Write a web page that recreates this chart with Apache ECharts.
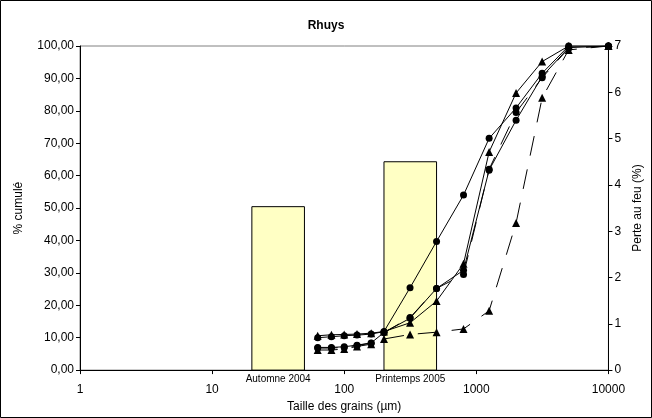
<!DOCTYPE html>
<html>
<head>
<meta charset="utf-8">
<script src="https://cdn.jsdelivr.net/npm/echarts@6/dist/echarts.min.js"></script>
<style>
    html, body { margin: 0; padding: 0; background: #fff; }
    #chart { width: 652px; height: 418px; }
</style>
</head>
<body>
<div id="chart"></div>
<script>
// tailles des tamis (µm)
var sizes = [63, 80, 100, 125, 160, 200, 315, 500, 800, 1250, 2000, 3150, 5000, 10000];

// % cumulé
var serieA = [10.0, 10.3, 10.6, 10.8, 11.1, 11.9, 25.4, 39.7, 54.0, 71.5, 80.9, 91.6, 100, 100];
var serieB = [10.6, 10.9, 11.0, 11.1, 11.4, 11.9, 14.6, 21.3, 32.8, 67.3, 85.5, 95.2, 100, 100];
var serieC = [6.8, 6.8, 7.0, 7.6, 8.3, 11.6, 16.2, 25.2, 29.5, 62.0, 79.5, 90.2, 99.3, 100];
var serieD = [6.2, 6.2, 6.5, 7.3, 8.0, 9.6, 11.0, 11.7, 12.7, 18.3, 45.4, 84.0, 98.8, 100];
var serieE = [7.0, 7.0, 7.2, 7.7, 8.4, 11.6, 16.0, 25.2, 30.8, 61.7, 77.1, 90.6, 99.5, 100];

// perte au feu (%)
var barLabels = ['Automne 2004', 'Printemps 2005'];
var barFrom = [20, 200];
var barTo = [50, 500];
var barValues = [3.53, 4.50];

var xTicks = ['1', '10', '100', '1000', '10000'];

var chart = echarts.init(document.getElementById('chart'));
var font = 'Arial, "Liberation Sans", sans-serif';

function pairs(values) {
    var out = [];
    for (var i = 0; i < sizes.length; i++) {
        out.push([sizes[i], values[i]]);
    }
    return out;
}

function lineSerie(values, symbol, dashed) {
    return {
        type: 'line',
        data: pairs(values),
        symbol: symbol,
        symbolSize: symbol === 'circle' ? 7 : 8,
        itemStyle: {color: '#000'},
        lineStyle: {color: '#000', width: 1, type: dashed ? [20, 14] : 'solid'},
        z: 5,
        animation: false
    };
}

var barData = [];
for (var i = 0; i < barLabels.length; i++) {
    barData.push([barFrom[i], barTo[i], barValues[i]]);
}

function renderBar(params, api) {
    var p0 = api.coord([api.value(0), api.value(2)]);
    var p1 = api.coord([api.value(1), 0]);
    return {
        type: 'group',
        children: [
            {
                type: 'rect',
                shape: {x: p0[0], y: p0[1], width: p1[0] - p0[0], height: p1[1] - p0[1]},
                style: {fill: '#ffffc4', stroke: '#000', lineWidth: 1}
            },
            {
                type: 'text',
                style: {
                    text: barLabels[params.dataIndex],
                    x: (p0[0] + p1[0]) / 2,
                    y: p1[1] + 4,
                    align: 'center',
                    verticalAlign: 'top',
                    font: '10px ' + font,
                    fill: '#000'
                }
            }
        ]
    };
}

chart.setOption({
    backgroundColor: '#fff',
    title: {
        text: 'Rhuys',
        left: 'center',
        top: 15,
        textStyle: {fontFamily: font, fontSize: 12, fontWeight: 'bold', color: '#000'}
    },
    grid: {
        left: 80,
        right: 36,
        top: 46,
        bottom: 46,
        show: true,
        borderColor: '#808080',
        borderWidth: 1
    },
    xAxis: {
        type: 'log',
        logBase: 10,
        min: 1,
        max: 10000,
        name: 'Taille des grains (µm)',
        nameLocation: 'middle',
        nameGap: 29,
        nameTextStyle: {fontFamily: font, fontSize: 12, color: '#000'},
        axisLine: {lineStyle: {color: '#000', width: 1}},
        axisTick: {length: 4, lineStyle: {color: '#000'}},
        axisLabel: {
            fontFamily: font, fontSize: 12, color: '#000', margin: 14,
            formatter: function (v) {
                var k = Math.round(Math.log10(v));
                return xTicks[k];
            }
        },
        splitLine: {show: false}
    },
    yAxis: [
        {
            type: 'value',
            min: 0,
            max: 100,
            interval: 10,
            name: '% cumulé',
            nameLocation: 'middle',
            nameGap: 55,
            nameTextStyle: {fontFamily: font, fontSize: 12, color: '#000'},
            axisLine: {show: true, lineStyle: {color: '#000'}},
            axisTick: {show: true, length: 4, lineStyle: {color: '#000'}},
            axisLabel: {
                fontFamily: font, fontSize: 12, color: '#000', margin: 6,
                formatter: function (v) {
                    return v.toFixed(2).replace('.', ',');
                }
            },
            splitLine: {show: false}
        },
        {
            type: 'value',
            min: 0,
            max: 7,
            interval: 1,
            position: 'right',
            name: 'Perte au feu (%)',
            nameLocation: 'middle',
            nameGap: 22,
            nameRotate: 90,
            nameTextStyle: {fontFamily: font, fontSize: 12, color: '#000'},
            axisLine: {show: true, lineStyle: {color: '#000'}},
            axisTick: {show: true, length: 4, lineStyle: {color: '#000'}},
            axisLabel: {fontFamily: font, fontSize: 12, color: '#000', margin: 6},
            splitLine: {show: false}
        }
    ],
    series: [
        {
            type: 'custom',
            yAxisIndex: 1,
            renderItem: renderBar,
            data: barData,
            z: 1,
            animation: false
        },
        lineSerie(serieA, 'circle', false),
        lineSerie(serieB, 'triangle', false),
        lineSerie(serieE, 'circle', false),
        lineSerie(serieC, 'circle', true),
        lineSerie(serieD, 'triangle', true)
    ],
    graphic: [
        {
            type: 'rect',
            shape: {x: 0.5, y: 0.5, width: 651, height: 417},
            style: {fill: null, stroke: '#000', lineWidth: 1},
            silent: true
        }
    ]
});
</script>
</body>
</html>
